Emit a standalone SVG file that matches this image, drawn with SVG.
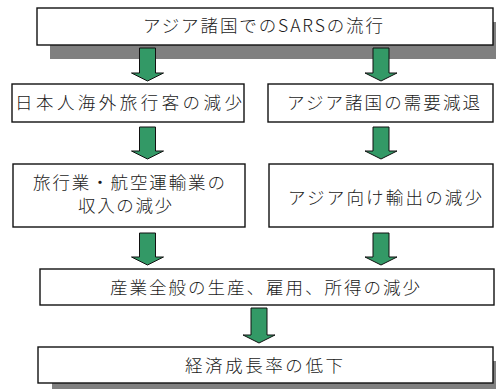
<svg xmlns="http://www.w3.org/2000/svg" width="496" height="389" viewBox="0 0 496 389">
<style>
.bx{fill:#fff;stroke:#111;stroke-width:1.4}
.sh{fill:#808080}
.ar{fill:#339966;stroke:#111;stroke-width:1}
text{font-family:"Noto Sans CJK JP","Noto Sans CJK SC",sans-serif;font-size:17.5px;font-weight:300;fill:#1a1a1a;text-anchor:middle}
</style>
<rect width="496" height="389" fill="#fff"/>
<g id="n1">
<rect class="sh" x="50" y="22" width="456" height="37"/>
<rect class="bx" x="37" y="8" width="456" height="37"/>
<text x="263" y="32" textLength="240" lengthAdjust="spacing">アジア諸国でのSARSの流行</text>
</g>
<g id="n2">
<rect class="bx" x="12" y="84" width="232" height="38"/>
<text x="128.5" y="109" textLength="227" lengthAdjust="spacing">日本人海外旅行客の減少</text>
</g>
<g id="n3">
<rect class="bx" x="268" y="84" width="225" height="38"/>
<text x="383.5" y="109" textLength="193" lengthAdjust="spacing">アジア諸国の需要減退</text>
</g>
<g id="n4">
<rect class="bx" x="13" y="164" width="232" height="63"/>
<text x="129" y="189" textLength="192" lengthAdjust="spacing">旅行業・航空運輸業の</text>
<text x="125" y="212" textLength="94" lengthAdjust="spacing">収入の減少</text>
</g>
<g id="n5">
<rect class="bx" x="269" y="164" width="224" height="63"/>
<text x="385" y="204" textLength="194" lengthAdjust="spacing">アジア向け輸出の減少</text>
</g>
<g id="n6">
<rect class="bx" x="40" y="269" width="454" height="36"/>
<text x="265" y="294" textLength="310" lengthAdjust="spacing">産業全般の生産、雇用、所得の減少</text>
</g>
<g id="n7">
<rect class="sh" x="52" y="361" width="456" height="36"/>
<rect class="bx" x="38" y="347" width="455" height="36"/>
<text x="264" y="372" textLength="158" lengthAdjust="spacing">経済成長率の低下</text>
</g>
<g id="connectors">
<path class="ar" d="M139.5,48 H155.5 V73 H163.5 L147.5,81 L131.5,73 H139.5 Z"/>
<path class="ar" d="M373,48 H389 V73 H397 L381,81 L365,73 H373 Z"/>
<path class="ar" d="M139.5,127 H155.5 V151 H163.5 L147.5,159 L131.5,151 H139.5 Z"/>
<path class="ar" d="M373,127 H389 V151 H397 L381,159 L365,151 H373 Z"/>
<path class="ar" d="M139.5,233 H155.5 V257 H163.5 L147.5,265 L131.5,257 H139.5 Z"/>
<path class="ar" d="M373,233 H389 V257 H397 L381,265 L365,257 H373 Z"/>
<path class="ar" d="M251,308 H267 V335 H275 L259,343 L243,335 H251 Z"/>
</g>
</svg>
